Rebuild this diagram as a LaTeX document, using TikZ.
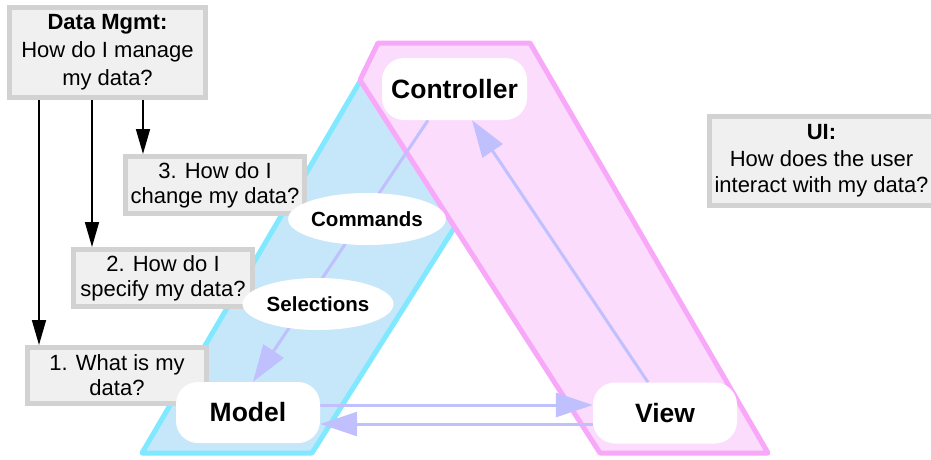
\documentclass[tikz,border=0pt]{standalone}
\usepackage{fontspec}
\setmainfont{Liberation Sans}
\usetikzlibrary{arrows.meta,shapes.geometric}
\definecolor{bandblue}{HTML}{C6E7FA}
\definecolor{bandblueedge}{HTML}{80E8FF}
\definecolor{bandpink}{HTML}{FCDCFC}
\definecolor{bandpinkedge}{HTML}{F8A8F8}
\definecolor{lav}{HTML}{C0C0FF}
\definecolor{boxfill}{HTML}{F0F0F0}
\definecolor{boxedge}{HTML}{D2D2D2}
\pgfdeclarelayer{bands}
\pgfdeclarelayer{links}
\pgfsetlayers{bands,links,main}
\begin{document}
\begin{tikzpicture}[x=1pt,y=-1pt,
  mvc/.style={rectangle, rounded corners=22pt, fill=white, minimum width=144pt, minimum height=61pt, inner sep=0pt, font=\fontsize{26.5}{30}\selectfont\bfseries},
  oval/.style={ellipse, fill=white, minimum width=151pt, minimum height=52pt, inner sep=0pt, font=\fontsize{20.5}{24}\selectfont\bfseries},
  qbox/.style={rectangle, fill=boxfill, draw=boxedge, line width=5pt, inner sep=0pt, align=center, font=\fontsize{22}{25}\selectfont},
  lavarrow/.style={draw=lav, line width=3pt, -{Triangle[length=37pt,width=24pt]}},
  blackarrow/.style={draw=black, line width=1.6pt, -{Triangle[length=25pt,width=14pt]}},
  band/.style={line width=5pt, line join=round}
]
\useasboundingbox (0,0) rectangle (931,459);
\begin{pgfonlayer}{bands}
\path[band, fill=bandblue, draw=bandblueedge] (142,453) -- (312,453) -- (549,78) -- (362,78) -- cycle;
\path[band, fill=bandpink, draw=bandpinkedge] (378,43) -- (530,43) -- (768,453) -- (600,453) -- (360,80) -- cycle;
\end{pgfonlayer}
% question boxes
\node[qbox, minimum width=196pt, minimum height=90pt, font=\fontsize{22}{28}\selectfont] (mgmt) at (107.5,52.5) {\textbf{Data Mgmt:}\\How do I manage\\my data?};
\node[qbox, minimum width=179pt, minimum height=57pt] (q3) at (215,185) {3. How do I\\change my data?};
\node[qbox, minimum width=179pt, minimum height=57pt] (q2) at (163,278) {2. How do I\\specify my data?};
\node[qbox, minimum width=179pt, minimum height=56pt] (q1) at (117,375.5) {1. What is my\\data?};
\node[qbox, minimum width=225pt, minimum height=89pt, font=\fontsize{22}{26.5}\selectfont] (ui) at (821.5,161) {\textbf{UI:}\\How does the user\\interact with my data?};
% black arrows
\draw[blackarrow] ([xshift=-68.5pt]mgmt.south) -- ([xshift=-78pt]q1.north);
\draw[blackarrow] ([xshift=-15.5pt]mgmt.south) -- ([xshift=-71pt]q2.north);
\draw[blackarrow] ([xshift=35.5pt]mgmt.south) -- ([xshift=-72pt]q3.north);
% ellipses
\node[oval] (cmd) at (367,219) {Commands};
\node[oval] (sel) at (318,304) {Selections};
% MVC nodes
\node[mvc, minimum width=145pt, minimum height=62pt] (ctrl) at (454.5,89) {Controller};
\node[mvc] (model) at (248,412.5) {Model};
\node[mvc] (view) at (665,413) {View};
% lavender links
\begin{pgfonlayer}{links}
\draw[lavarrow] ([yshift=7.5pt]model.east) -- ([yshift=8pt]view.west);
\draw[lavarrow] ([yshift=-11pt]view.west) -- ([yshift=-11.5pt]model.east);
\draw[lavarrow] ([xshift=-26.5pt]ctrl.south) -- ([xshift=5pt]model.north);
\draw[lavarrow] ([xshift=-17pt]view.north) -- ([xshift=17.5pt]ctrl.south);
\end{pgfonlayer}
\end{tikzpicture}
\end{document}
